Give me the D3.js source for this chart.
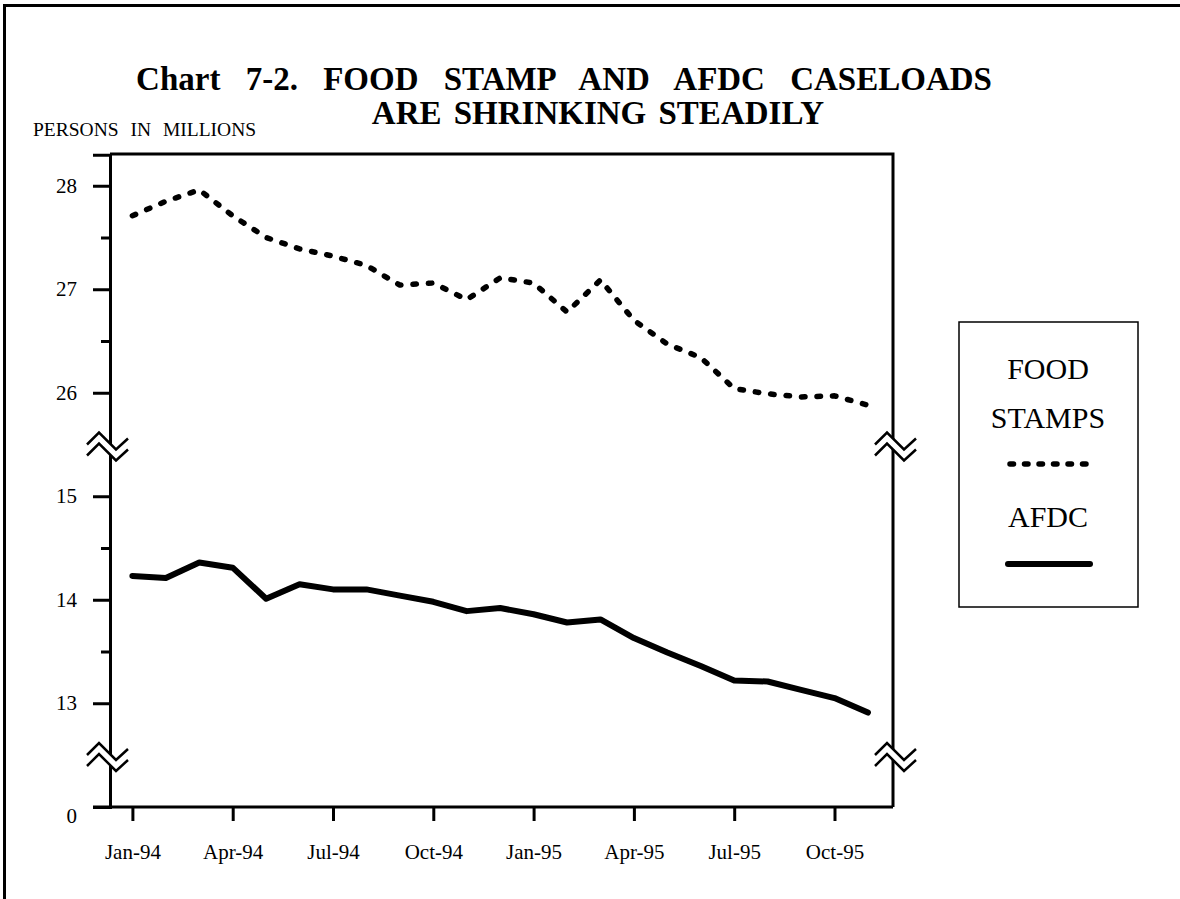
<!DOCTYPE html>
<html>
<head>
<meta charset="utf-8">
<script src="https://cdn.jsdelivr.net/npm/d3@7/dist/d3.min.js"></script>
<style>
  html, body { margin: 0; padding: 0; background: #fff; }
  svg { display: block; }
  text { font-family: "Liberation Serif", "Times New Roman", serif; fill: #000; }
</style>
</head>
<body>
<svg id="chart" width="1180" height="899"></svg>
<script>
// ---- data ----
const months = ["Jan-94","Feb-94","Mar-94","Apr-94","May-94","Jun-94","Jul-94","Aug-94","Sep-94","Oct-94","Nov-94","Dec-94",
                "Jan-95","Feb-95","Mar-95","Apr-95","May-95","Jun-95","Jul-95","Aug-95","Sep-95","Oct-95","Nov-95"];
const foodStamps = [27.71, 27.85, 27.96, 27.71, 27.50, 27.39, 27.32, 27.23, 27.04, 27.06, 26.90, 27.11,
                    27.06, 26.78, 27.09, 26.70, 26.47, 26.34, 26.04, 25.99, 25.96, 25.97, 25.88];
const afdc = [14.23, 14.21, 14.36, 14.31, 14.01, 14.15, 14.10, 14.10, 14.04, 13.98, 13.89, 13.92,
              13.86, 13.78, 13.81, 13.63, 13.49, 13.36, 13.22, 13.21, 13.13, 13.05, 12.91];
const xTickIdx = [0, 3, 6, 9, 12, 15, 18, 21];
const yMajor = [28, 27, 26, 15, 14, 13, 0];
const yMinor = [27.5, 26.5, 14.5, 13.5];
const yBreaks = [25.5, 12.5];
const titleLines = ["Chart 7-2. FOOD STAMP AND AFDC CASELOADS", "ARE SHRINKING STEADILY"];
const yUnitLabel = "PERSONS IN MILLIONS";
const legendItems = [
  { lines: ["FOOD", "STAMPS"], dashed: true },
  { lines: ["AFDC"], dashed: false }
];

// ---- layout ----
const svg = d3.select("#chart");
const L = 110, R = 893, T = 154, B = 807;

// outer border (only left/top visible)
svg.append("rect").attr("x", 4.5).attr("y", 5.5).attr("width", 1300).attr("height", 1000)
  .attr("fill", "none").attr("stroke", "#000").attr("stroke-width", 3);

const x = d3.scaleLinear().domain([-0.67, 22.75]).range([L, R]);
// broken axis: polylinear scale, with gap from 15.5 to 25.5 and from 0 to 12.5
const y = d3.scaleLinear().domain([0, 12.5, 15.5, 25.5, 28.3]).range([B, 755, 444.5, 444.5, T + 0.7]);

// title
const title = svg.append("g");
title.append("text").attr("x", 564).attr("y", 90).attr("text-anchor", "middle")
  .attr("font-size", 33).attr("font-weight", "bold").attr("word-spacing", 17).text(titleLines[0]);
title.append("text").attr("x", 598).attr("y", 124).attr("text-anchor", "middle")
  .attr("font-size", 33).attr("font-weight", "bold").attr("word-spacing", 4).text(titleLines[1]);

svg.append("text").attr("x", 33).attr("y", 136).attr("font-size", 19.5).attr("word-spacing", 7).text(yUnitLabel);

// frame top/right
svg.append("path").attr("d", `M${L},${T}H${R}V${B}`).attr("fill", "none").attr("stroke", "#000").attr("stroke-width", 3);

// y axis major
const yAxis = svg.append("g").attr("transform", `translate(${L},0)`)
  .call(d3.axisLeft(y).tickValues(yMajor).tickSize(17).tickPadding(16).tickFormat(d3.format("d")));
yAxis.select(".domain").attr("stroke-width", 3);
yAxis.selectAll(".tick line").attr("stroke-width", 3);
yAxis.selectAll(".tick text").attr("font-size", 21).attr("font-family", "Liberation Serif")
  .attr("dy", d => d === 0 ? "0.72em" : "0.32em");
// y axis minor
const yMin = svg.append("g").attr("transform", `translate(${L},0)`)
  .call(d3.axisLeft(y).tickValues(yMinor).tickSize(9).tickFormat(""));
yMin.select(".domain").remove();
yMin.selectAll(".tick line").attr("stroke-width", 3);

// x axis
const xAxis = svg.append("g").attr("transform", `translate(0,${B})`)
  .call(d3.axisBottom(x).tickValues(xTickIdx).tickSize(14).tickPadding(23).tickFormat(i => months[i]));
xAxis.select(".domain").attr("d", `M${L - 17},0H${R}`).attr("stroke-width", 3);
xAxis.selectAll(".tick line").attr("stroke-width", 3);
xAxis.selectAll(".tick text").attr("font-size", 21).attr("font-family", "Liberation Serif");

// break marks
function breakMark(cx, cy, offs) {
  const top = [[offs[0], -1], [offs[1], -13], [offs[2], 4], [offs[3], -7]];
  const bot = top.map(p => [p[0], p[1] + 11]);
  const g = svg.append("g").attr("transform", `translate(${cx},${cy})`);
  g.append("path").attr("d", d3.line()(top.concat(bot.slice().reverse())) + "Z").attr("fill", "#fff").attr("stroke", "none");
  [top, bot].forEach(pts => g.append("path").attr("d", d3.line()(pts))
    .attr("fill", "none").attr("stroke", "#000").attr("stroke-width", 2.5));
}
yBreaks.forEach(v => {
  breakMark(L, y(v) + 1, [-23, -11, 6, 18]);
  breakMark(R, y(v) + 1, [-18, -6, 11, 23]);
});

// series
const line = d3.line().x((d, i) => x(i)).y(d => y(d));
svg.append("path").datum(foodStamps).attr("d", line).attr("fill", "none").attr("stroke", "#000")
  .attr("stroke-width", 5.5).attr("stroke-linecap", "round").attr("stroke-linejoin", "round").attr("stroke-dasharray", "3.5,12");
svg.append("path").datum(afdc).attr("d", line).attr("fill", "none").attr("stroke", "#000")
  .attr("stroke-width", 6).attr("stroke-linecap", "round").attr("stroke-linejoin", "round");

// legend
const lg = svg.append("g");
lg.append("rect").attr("x", 959).attr("y", 322).attr("width", 179).attr("height", 285)
  .attr("fill", "#fff").attr("stroke", "#000").attr("stroke-width", 1.5);
const lcx = 1048;
lg.append("text").attr("x", lcx).attr("y", 379).attr("text-anchor", "middle").attr("font-size", 30).text(legendItems[0].lines[0]);
lg.append("text").attr("x", lcx).attr("y", 428).attr("text-anchor", "middle").attr("font-size", 30).text(legendItems[0].lines[1]);
lg.append("line").attr("x1", 1010).attr("x2", 1090).attr("y1", 464).attr("y2", 464).attr("stroke", "#000")
  .attr("stroke-width", 5.5).attr("stroke-linecap", "round").attr("stroke-dasharray", "3.5,11");
lg.append("text").attr("x", lcx).attr("y", 527).attr("text-anchor", "middle").attr("font-size", 30).text(legendItems[1].lines[0]);
lg.append("line").attr("x1", 1008).attr("x2", 1090).attr("y1", 564).attr("y2", 564).attr("stroke", "#000")
  .attr("stroke-width", 6).attr("stroke-linecap", "round");
</script>
</body>
</html>
